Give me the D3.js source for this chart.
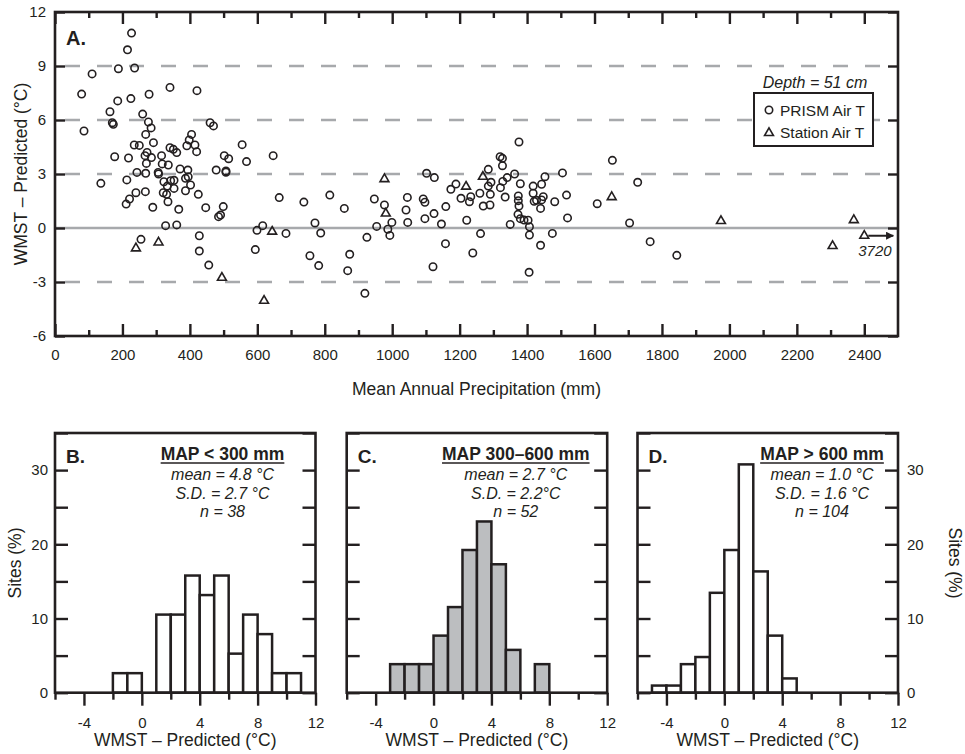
<!DOCTYPE html>
<html>
<head>
<meta charset="utf-8">
<script src="https://cdn.jsdelivr.net/npm/d3@7"></script>
<style>
body { margin: 0; background: #fff; }
svg text { font-family: "Liberation Sans", Arial, sans-serif; fill: #231f20; }
</style>
</head>
<body>
<svg id="chart" width="965" height="754"></svg>
<script>
// WMST residuals vs MAP, plus histograms by MAP class

// panel A, PRISM air T sites
const prismMAP = [79,86,110,136,163,173,170,177,186,188,211,213,215,218,221,225,227,236,235,240,
  243,250,260,267,268,269,269,271,273,277,279,285,286,290,292,306,307,316,318,321,
  323,328,331,333,335,336,341,341,343,351,353,353,361,361,367,371,387,387,391,394,
  395,398,402,405,415,420,421,425,428,428,447,456,460,470,478,485,491,499,502,507,
  507,515,555,568,594,599,616,647,665,685,738,756,771,782,788,815,255,858,874,868,
  919,925,947,954,977,987,993,999,1041,1045,1046,1092,1097,1097,1102,1125,1121,1124,1146,1158,
  1159,1174,1189,1204,1221,1229,1233,1239,1262,1260,1270,1285,1285,1293,1291,1290,1320,1327,1327,1321,
  1328,1335,1341,1363,1350,1376,1380,1374,1374,1376,1373,1380,1391,1403,1407,1407,1406,1418,1418,1421,
  1428,1440,1443,1443,1448,1453,1440,1475,1482,1505,1517,1520,1608,1653,1704,1728,1765,1844]
const prismDiff = [7.44,5.39,8.56,2.48,6.46,5.76,5.85,3.96,7.06,8.85,1.33,2.67,9.9,3.89,1.61,7.19,10.83,8.89,4.61,1.96,
  3.09,4.59,6.33,4.02,2.02,3.04,5.2,3.59,4.2,5.89,7.43,5.56,3.91,1.15,4.74,3.09,3.0,4.02,3.56,1.96,
  2.57,0.13,1.87,2.33,1.46,3.5,7.81,4.46,2.63,4.37,2.65,2.2,4.19,0.17,1.04,3.28,2.07,2.76,4.57,3.22,
  2.85,4.89,2.39,5.2,4.61,4.24,7.63,1.87,-0.43,-1.28,1.13,-2.06,5.85,5.67,3.22,0.63,0.72,1.19,4.02,3.17,
  3.1,3.85,4.63,3.69,-1.2,-0.13,0.13,4.02,1.69,-0.3,1.44,-1.54,0.28,-2.09,-0.28,1.83,-0.63,1.09,-1.46,-2.37,
  -3.63,-0.52,1.61,0.09,1.28,-0.07,-0.41,0.31,1.0,1.7,0.31,1.61,1.43,0.52,3.04,2.8,-2.15,0.8,0.22,-0.87,
  1.19,2.15,2.44,1.65,0.43,1.46,1.74,-1.39,-0.31,1.93,1.22,3.26,2.33,2.54,1.87,1.28,3.96,3.87,3.46,2.24,
  2.59,1.72,2.8,3.0,0.2,4.78,2.46,1.78,1.52,1.22,0.76,0.52,0.44,0.43,0.07,-0.39,-2.46,2.33,1.93,1.48,
  1.54,1.09,2.43,1.56,1.74,2.85,-0.96,-0.3,1.46,3.06,1.83,0.56,1.35,3.76,0.28,2.54,-0.76,-1.52]

// panel A, station air T sites (last one is off-scale at 3720 mm)
const stationMAP = [240,307,495,620,644,977,981,1219,1269,1651,1975,2306,2369,3720]
const stationDiff = [-1.13,-0.8,-2.76,-4.04,-0.2,2.72,0.81,2.3,2.85,1.72,0.39,-1.0,0.44,-0.43]

// histogram bins (lower edge, 1 degC wide) and site counts
const binLo = d3.range(-6, 12)
const countsB = [0,0,0,0,1,1,0,4,4,6,5,6,2,4,3,1,1,0]
const countsC = [0,0,0,2,2,2,4,6,10,12,9,3,0,2,0,0,0,0]
const countsD = [0,1,1,4,5,14,20,32,17,8,2,0,0,0,0,0,0,0]

const panelNames = ["B.", "C.", "D."]
const panelTitles = ["MAP < 300 mm", "MAP 300\u2013600 mm", "MAP > 600 mm"]
const panelStats = [
  ["mean = 4.8 \u00b0C", "S.D. = 2.7 \u00b0C", "n = 38"],
  ["mean = 2.7 \u00b0C", "S.D. = 2.2\u00b0C", "n = 52"],
  ["mean = 1.0 \u00b0C", "S.D. = 1.6 \u00b0C", "n = 104"]
]

const ink = "#231f20"
const svg = d3.select("#chart")
const plain = d => String(d)   // hyphen minus, no thousands comma

let styleAxis = (g, size) => {
  g.select(".domain").remove()
  g.selectAll(".tick line").attr("stroke", ink).attr("stroke-width", 2.4)
  g.selectAll("text").attr("font-family", null).attr("font-size", size).attr("fill", ink)
  g.attr("font-family", null)
}

// ---------- Panel A ----------
let x = d3.scaleLinear().domain([0, 2500]).range([55, 898])
let y = d3.scaleLinear().domain([-6, 12]).range([336, 12])

svg.append("g").selectAll("line")
  .data([-3, 0, 3, 6, 9])
  .enter()
  .append("line")
  .attr("x1", x(0)).attr("x2", x(2500))
  .attr("y1", d => y(d)).attr("y2", d => y(d))
  .attr("stroke", "#a7a9ac")
  .attr("stroke-width", 2.6)
  .attr("stroke-dasharray", d => d == 0 ? null : "15,17")
  .attr("stroke-dashoffset", 22)

let gx = svg.append("g").attr("transform", `translate(0,${y(-6)})`)
  .call(d3.axisBottom(x).tickValues(d3.range(0, 2401, 200)).tickSize(-12).tickPadding(13).tickFormat(plain))
styleAxis(gx, 15)
let gx2 = svg.append("g").attr("transform", `translate(0,${y(-6)})`)
  .call(d3.axisBottom(x).tickValues(d3.range(100, 2500, 200)).tickSize(-6).tickFormat(""))
styleAxis(gx2, 15)
let gxt = svg.append("g").attr("transform", `translate(0,${y(12)})`)
  .call(d3.axisTop(x).tickValues(d3.range(0, 2401, 200)).tickSize(-12).tickFormat(""))
styleAxis(gxt, 15)
let gxt2 = svg.append("g").attr("transform", `translate(0,${y(12)})`)
  .call(d3.axisTop(x).tickValues(d3.range(100, 2500, 200)).tickSize(-6).tickFormat(""))
styleAxis(gxt2, 15)
let gy = svg.append("g").attr("transform", `translate(${x(0)},0)`)
  .call(d3.axisLeft(y).tickValues(d3.range(-6, 13, 3)).tickSize(-10).tickPadding(9).tickFormat(plain))
styleAxis(gy, 15)
let gyr = svg.append("g").attr("transform", `translate(${x(2500)},0)`)
  .call(d3.axisRight(y).tickValues(d3.range(-6, 13, 3)).tickSize(-10).tickFormat(""))
styleAxis(gyr, 15)

svg.append("rect")
  .attr("x", x(0)).attr("y", y(12))
  .attr("width", x(2500) - x(0)).attr("height", y(-6) - y(12))
  .attr("fill", "none").attr("stroke", ink).attr("stroke-width", 2.6)

// points
svg.append("g").selectAll("circle")
  .data(prismMAP.map((m, i) => ({ m: m, d: prismDiff[i] })))
  .enter()
  .append("circle")
  .attr("cx", d => x(d.m))
  .attr("cy", d => y(d.d))
  .attr("r", 3.7)
  .attr("fill", "none")
  .attr("stroke", ink)
  .attr("stroke-width", 1.6)

let tri = d3.symbol(d3.symbolTriangle).size(34)
svg.append("g").selectAll("path")
  .data(stationMAP.map((m, i) => ({ m: m, d: stationDiff[i] })))
  .enter()
  .append("path")
  .attr("d", tri)
  .attr("transform", d => `translate(${x(Math.min(d.m, 2400))},${y(d.d)})`)
  .attr("fill", "none")
  .attr("stroke", ink)
  .attr("stroke-width", 1.6)

// off-scale arrow
let offScale = stationMAP.findIndex(m => m > 2500)
let ay = y(stationDiff[offScale])
svg.append("defs").append("marker")
  .attr("id", "head").attr("viewBox", "0 0 10 10")
  .attr("refX", 9).attr("refY", 5)
  .attr("markerWidth", 9).attr("markerHeight", 8)
  .attr("markerUnits", "userSpaceOnUse")
  .attr("orient", "auto")
  .append("path").attr("d", "M0,0L10,5L0,10Z").attr("fill", ink)
svg.append("line")
  .attr("x1", x(2400) + 4).attr("x2", x(2400) + 29)
  .attr("y1", ay).attr("y2", ay)
  .attr("stroke", ink).attr("stroke-width", 2)
  .attr("marker-end", "url(#head)")
svg.append("text")
  .attr("x", x(2400) - 6).attr("y", ay + 20)
  .attr("font-size", 15).attr("font-style", "italic")
  .text(stationMAP[offScale])

svg.append("text").attr("x", 66).attr("y", 45)
  .attr("font-size", 20).attr("font-weight", "bold").text("A.")

// legend
svg.append("text").attr("x", 815).attr("y", 88)
  .attr("text-anchor", "middle").attr("font-size", 16).attr("font-style", "italic")
  .text("Depth = 51 cm")
svg.append("rect").attr("x", 754).attr("y", 93).attr("width", 119).attr("height", 53)
  .attr("fill", "#fff").attr("stroke", ink).attr("stroke-width", 2)
svg.append("circle").attr("cx", 769).attr("cy", 110).attr("r", 3.7)
  .attr("fill", "none").attr("stroke", ink).attr("stroke-width", 1.6)
svg.append("path").attr("d", tri).attr("transform", "translate(769,133)")
  .attr("fill", "none").attr("stroke", ink).attr("stroke-width", 1.6)
svg.append("text").attr("x", 780).attr("y", 115.5).attr("font-size", 15.5).text("PRISM Air T")
svg.append("text").attr("x", 780).attr("y", 138).attr("font-size", 15.5).text("Station Air T")

svg.append("text")
  .attr("transform", `translate(${(x(0) + x(2500)) / 2},395)`)
  .attr("text-anchor", "middle").attr("font-size", 17.5)
  .text("Mean Annual Precipitation (mm)")
svg.append("text")
  .attr("transform", `translate(27,${(y(-6) + y(12)) / 2}) rotate(-90)`)
  .attr("text-anchor", "middle").attr("font-size", 17.5)
  .text("WMST \u2013 Predicted (\u00b0C)")

// ---------- Panels B, C, D ----------
const panelLeft = [55, 346.7, 637.5]
const panelFill = ["#fff", "#bcbec0", "#fff"]
const panelTextX = [222.5, 515.8, 822]
const allCounts = [countsB, countsC, countsD]
let hy = d3.scaleLinear().domain([0, 35]).range([692.7, 433])

allCounts.forEach((counts, p) => {
  let n = d3.sum(counts)
  let hx = d3.scaleLinear().domain([-6, 12]).range([panelLeft[p], panelLeft[p] + 260.5])
  let g = svg.append("g")

  let bins = binLo.map((lo, i) => ({ lo: lo, pct: counts[i] / n * 100 })).filter(d => d.pct > 0)
  g.selectAll("rect.bar")
    .data(bins)
    .enter()
    .append("rect")
    .attr("class", "bar")
    .attr("x", d => hx(d.lo))
    .attr("y", d => hy(d.pct))
    .attr("width", d => hx(d.lo + 1) - hx(d.lo))
    .attr("height", d => hy(0) - hy(d.pct))
    .attr("fill", panelFill[p])
    .attr("stroke", ink)
    .attr("stroke-width", 2.5)

  let bx = g.append("g").attr("transform", `translate(0,${hy(0)})`)
    .call(d3.axisBottom(hx).tickValues([-4, 0, 4, 8, 12]).tickSize(13).tickPadding(12).tickFormat(plain))
  styleAxis(bx, 15)
  let bx2 = g.append("g").attr("transform", `translate(0,${hy(0)})`)
    .call(d3.axisBottom(hx).tickValues([-6, -2, 2, 6, 10]).tickSize(7).tickFormat(""))
  styleAxis(bx2, 15)

  let by = g.append("g").attr("transform", `translate(${hx(-6)},0)`)
    .call(d3.axisLeft(hy).tickValues(d3.range(0, 36, 5)).tickSize(-13).tickPadding(7)
      .tickFormat(d => (p == 0 && d % 10 == 0) ? d : ""))
  styleAxis(by, 15)
  let byr = g.append("g").attr("transform", `translate(${hx(12)},0)`)
    .call(d3.axisRight(hy).tickValues(d3.range(0, 36, 5)).tickSize(-13).tickPadding(9)
      .tickFormat(d => (p == 2 && d % 10 == 0) ? d : ""))
  styleAxis(byr, 15)

  g.append("rect")
    .attr("x", hx(-6)).attr("y", hy(35))
    .attr("width", hx(12) - hx(-6)).attr("height", hy(0) - hy(35))
    .attr("fill", "none").attr("stroke", ink).attr("stroke-width", 2.6)

  g.append("text").attr("x", hx(-6) + 11).attr("y", 462.5)
    .attr("font-size", 19).attr("font-weight", "bold").text(panelNames[p])

  let t = g.append("text").attr("x", panelTextX[p]).attr("y", 460)
    .attr("text-anchor", "middle").attr("font-size", 17.5).attr("font-weight", "bold")
    .text(panelTitles[p])
  let bb = t.node().getBBox()
  g.append("line")
    .attr("x1", bb.x).attr("x2", bb.x + bb.width)
    .attr("y1", 463).attr("y2", 463)
    .attr("stroke", ink).attr("stroke-width", 1.6)

  g.selectAll("text.stat")
    .data(panelStats[p])
    .enter()
    .append("text")
    .attr("class", "stat")
    .attr("x", panelTextX[p])
    .attr("y", (d, i) => 480 + i * 18.5)
    .attr("text-anchor", "middle")
    .attr("font-size", 16)
    .attr("font-style", "italic")
    .text(d => d)

  g.append("text")
    .attr("x", (hx(-6) + hx(12)) / 2).attr("y", 746)
    .attr("text-anchor", "middle").attr("font-size", 17.5)
    .text("WMST \u2013 Predicted (\u00b0C)")
})

svg.append("text")
  .attr("transform", `translate(21,563) rotate(-90)`)
  .attr("text-anchor", "middle").attr("font-size", 17.5)
  .text("Sites (%)")
svg.append("text")
  .attr("transform", `translate(949,563) rotate(90)`)
  .attr("text-anchor", "middle").attr("font-size", 17.5)
  .text("Sites (%)")
</script>
</body>
</html>
